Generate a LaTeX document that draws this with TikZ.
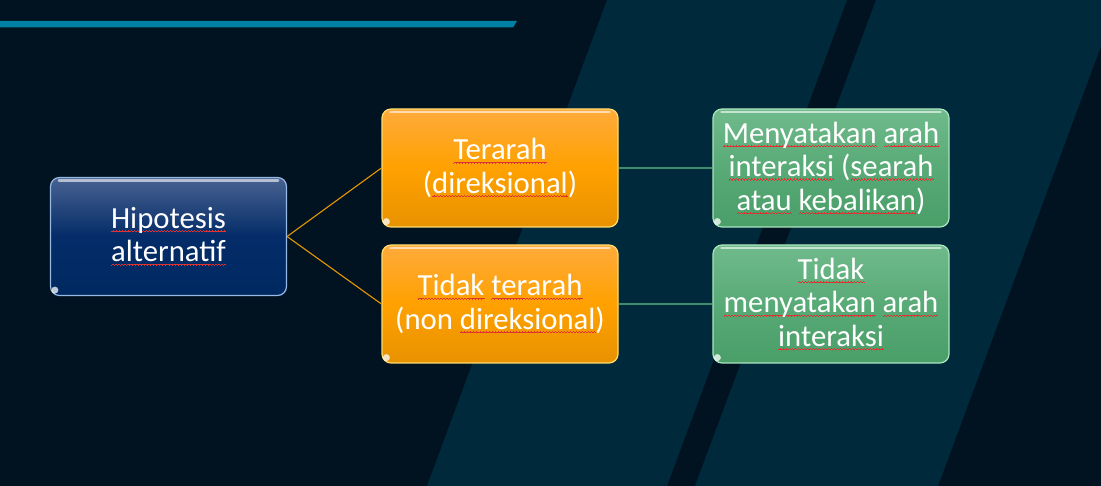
\documentclass[tikz,border=0pt]{standalone}
\usepackage{fontspec}
\setmainfont{Carlito}
\definecolor{bgdark}{RGB}{1,19,32}
\definecolor{bglight}{RGB}{0,42,60}
\definecolor{topline}{RGB}{0,128,165}
\definecolor{bluetop}{RGB}{72,98,145}
\definecolor{bluemid}{RGB}{4,44,104}
\definecolor{bluebot}{RGB}{0,40,96}
\definecolor{bluerim}{RGB}{150,185,230}
\definecolor{ortop}{RGB}{255,170,60}
\definecolor{ormid}{RGB}{255,161,0}
\definecolor{orbot}{RGB}{232,146,0}
\definecolor{orrim}{RGB}{255,220,110}
\definecolor{grtop}{RGB}{112,186,140}
\definecolor{grmid}{RGB}{88,170,118}
\definecolor{grbot}{RGB}{74,158,104}
\definecolor{grrim}{RGB}{170,230,190}
\definecolor{orline}{RGB}{232,150,0}
\definecolor{grline}{RGB}{62,140,108}
\definecolor{squig}{RGB}{225,50,50}
\newsavebox\sqbox
\newcommand\wavecell{\rule[-3.9pt]{0.75pt}{0.8pt}\rule[-3.3pt]{0.75pt}{0.8pt}\rule[-2.7pt]{0.75pt}{0.8pt}\rule[-3.3pt]{0.75pt}{0.8pt}}
\newcommand\sq[1]{\sbox\sqbox{#1}\rlap{\color{squig}\hbox to\wd\sqbox{\xleaders\hbox{\wavecell}\hfill}}\usebox\sqbox}
\begin{document}
\begin{tikzpicture}[x=1pt,y=-1pt,
  box/.style={rounded corners=9pt, minimum width=236pt, minimum height=118pt,
    inner sep=0pt, align=center, text=white, line width=1.2pt,
    font=\fontsize{30.7}{33.5}\selectfont},
  bluebox/.style={box, draw=bluerim, top color=bluetop, bottom color=bluebot, middle color=bluemid},
  orbox/.style={box, draw=orrim, top color=ortop, bottom color=orbot, middle color=ormid},
  grbox/.style={box, draw=grrim, top color=grtop, bottom color=grbot, middle color=grmid},
  orlink/.style={draw=orline, line width=1.1pt},
  grlink/.style={draw=grline, line width=1.6pt},
  gloss/.style={draw=white, opacity=0.6, line width=2.5pt, line cap=round}]
\useasboundingbox (0,0) rectangle (1101,486);
% background
\fill[bgdark] (0,0) rectangle (1101,486);
\fill[bglight] (607,0) -- (847,0) -- (667,486) -- (427,486) -- cycle;
\fill[bglight] (876,0) -- (1101,0) -- (1101,46) -- (938,486) -- (695,486) -- cycle;
\fill[topline] (0,21) -- (517,21) -- (513,27.5) -- (0,27.5) -- cycle;
% nodes
\node[bluebox] (hip) at (168.5,236.5) {\sq{Hipotesis}\\\sq{alternatif}};
\node[orbox] (ter) at (500,168) {\sq{Terarah}\\(\sq{direksional})};
\node[orbox] (tid) at (500,304) {\sq{Tidak} \sq{terarah}\\(non \sq{direksional})};
\node[grbox] (men) at (831,168) {\sq{Menyatakan} \sq{arah}\\\sq{interaksi} (\sq{searah}\\\sq{atau} \sq{kebalikan})};
\node[grbox] (tmen) at (831,304) {\sq{Tidak}\\\sq{menyatakan} \sq{arah}\\\sq{interaksi}};
% gloss highlights
\foreach \n in {hip,ter,tid,men,tmen}{
  \draw[gloss] ([xshift=9pt,yshift=-3.5pt]\n.north west) -- ([xshift=-9pt,yshift=-3.5pt]\n.north east);
  \fill[white,opacity=0.75] ([xshift=5pt,yshift=6pt]\n.south west) circle (3.5pt);
}
% connectors
\draw[orlink] (hip.east) -- (ter.west);
\draw[orlink] (hip.east) -- (tid.west);
\draw[grlink] (ter.east) -- (men.west);
\draw[grlink] (tid.east) -- (tmen.west);
\end{tikzpicture}
\end{document}
